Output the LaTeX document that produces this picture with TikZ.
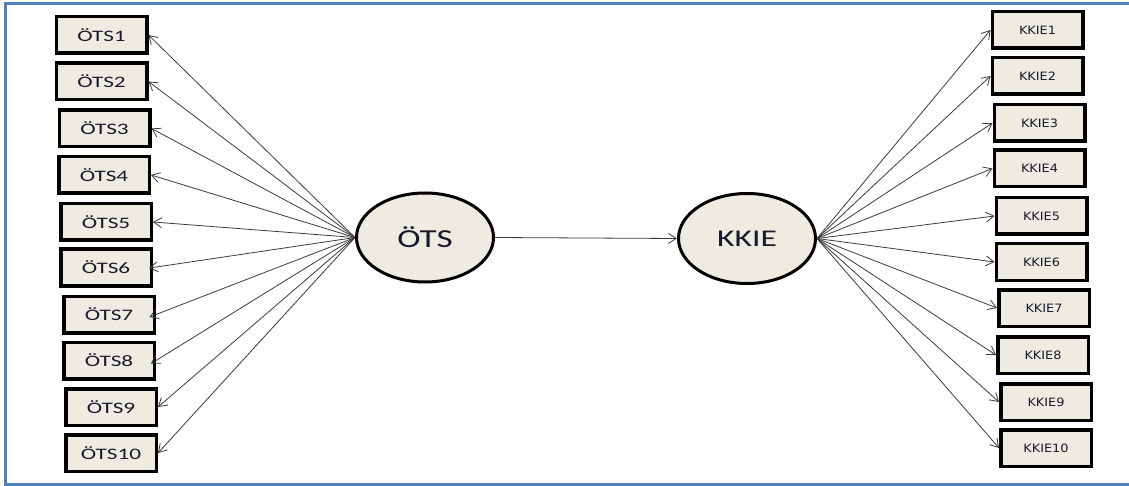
\documentclass[tikz,border=0pt]{standalone}
\usepackage{fontspec}
\newfontfamily\calfont{Carlito}
\newfontfamily\dvsfont{DejaVu Sans}
\usetikzlibrary{arrows.meta,shapes.geometric}
\definecolor{framecol}{RGB}{79,129,189}
\definecolor{boxfill}{RGB}{238,236,225}
\definecolor{txtcol}{RGB}{25,25,45}
\definecolor{arrcol}{RGB}{60,60,60}
\tikzset{
  obsbox/.style={draw=black, line width=3.5pt, fill=boxfill, rectangle,
    minimum width=90.5pt, minimum height=36.5pt, inner sep=0pt, text=txtcol},
  latent/.style={draw=black, line width=3pt, fill=boxfill, ellipse,
    minimum width=137pt, minimum height=89pt, inner sep=0pt, text=txtcol},
  conn/.style={draw=arrcol, line width=0.8pt, -{Straight Barb[length=8pt,width=10pt,line width=0.8pt]}},
  ltxt/.style={font=\calfont\fontsize{16}{16}\selectfont},
  rtxt/.style={font=\dvsfont\fontsize{11.5}{11.5}\selectfont},
}
\newcommand{\wideL}[1]{\scalebox{1.45}[1]{#1}}
\newcommand{\wideR}[1]{\scalebox{1.12}[1]{#1}}
\begin{document}
\begin{tikzpicture}[x=1pt,y=-1pt]
\useasboundingbox (0,0) rectangle (1129,486);
\fill[white] (0,0) rectangle (1129,486);
\draw[framecol, line width=3pt] (1129,4) -- (5,4) -- (5,484) -- (1129,484);

% latent variables
\node[latent, font=\calfont\fontsize{26}{26}\selectfont] (ots) at (425,237.5) {\scalebox{1.35}[1]{ÖTS}};
\node[latent, font=\calfont\fontsize{24}{24}\selectfont, minimum height=90pt] (kkie) at (747,238.5) {\scalebox{1.4}[1]{KKIE}};

% left indicators
\node[obsbox, ltxt] (o1) at (101.5,35) {\wideL{ÖTS1}};
\node[obsbox, ltxt] (o2) at (101.5,81.5) {\wideL{ÖTS2}};
\node[obsbox, ltxt] (o3) at (104.5,128.5) {\wideL{ÖTS3}};
\node[obsbox, ltxt] (o4) at (104,175) {\wideL{ÖTS4}};
\node[obsbox, ltxt] (o5) at (106,222) {\wideL{ÖTS5}};
\node[obsbox, ltxt] (o6) at (106,267.5) {\wideL{ÖTS6}};
\node[obsbox, ltxt] (o7) at (109,314.5) {\wideL{ÖTS7}};
\node[obsbox, ltxt] (o8) at (109,360.5) {\wideL{ÖTS8}};
\node[obsbox, ltxt] (o9) at (111,407) {\wideL{ÖTS9}};
\node[obsbox, ltxt] (o10) at (111,453) {\wideL{ÖTS10}};

% right indicators
\node[obsbox, rtxt] (k1) at (1037.5,30) {\wideR{KKIE1}};
\node[obsbox, rtxt] (k2) at (1037.5,76) {\wideR{KKIE2}};
\node[obsbox, rtxt] (k3) at (1039.5,123) {\wideR{KKIE3}};
\node[obsbox, rtxt] (k4) at (1039.5,168.5) {\wideR{KKIE4}};
\node[obsbox, rtxt] (k5) at (1041.5,216) {\wideR{KKIE5}};
\node[obsbox, rtxt] (k6) at (1041.5,262) {\wideR{KKIE6}};
\node[obsbox, rtxt] (k7) at (1044,308) {\wideR{KKIE7}};
\node[obsbox, rtxt] (k8) at (1043,355) {\wideR{KKIE8}};
\node[obsbox, rtxt] (k9) at (1046,402) {\wideR{KKIE9}};
\node[obsbox, rtxt] (k10) at (1046,448) {\wideR{KKIE10}};

% connectors
\foreach \i in {1,2,3,4,5,9,10}{
  \draw[conn] (ots.west) -- (o\i.east);
}
\draw[conn, shorten >=-4pt] (ots.west) -- (o6.east);
\draw[conn, shorten >=-7pt] (ots.west) -- (o7.east);
\draw[conn, shorten >=-6pt] (ots.west) -- (o8.east);
\foreach \i in {1,...,10}{
  \draw[conn] (kkie.east) -- (k\i.west);
}
\draw[conn] (ots.east) -- (kkie.west);
\end{tikzpicture}
\end{document}
